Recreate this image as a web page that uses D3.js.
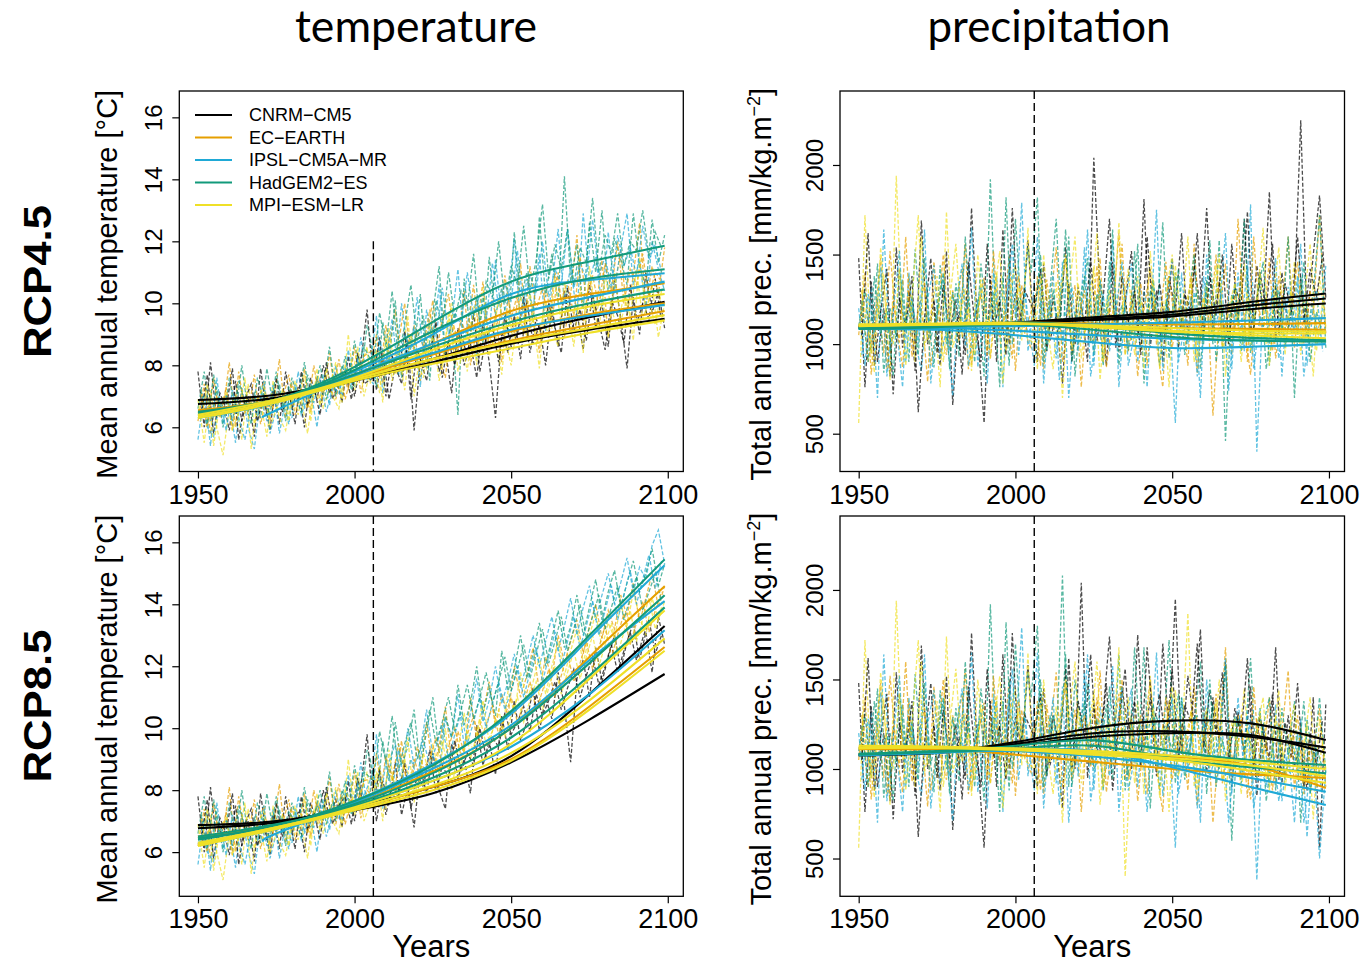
<!DOCTYPE html>
<html>
<head>
<meta charset="utf-8">
<script src="https://cdn.jsdelivr.net/npm/d3@7"></script>
<style>
  body { margin: 0; background: #fff; }
  svg { display: block; }
  text { font-family: "Liberation Sans", Arial, sans-serif; fill: #000; }
</style>
</head>
<body>
<div id="chart"></div>
<script>
// models / legend
const models = ["CNRM−CM5", "EC−EARTH", "IPSL−CM5A−MR", "HadGEM2−ES", "MPI−ESM−LR"];
const colors = ["#000000", "#E69F00", "#1FA9D6", "#129A7B", "#EFE027"];

// years of the annual series (two runs per model, read every second year)
const histYears = d3.range(1950, 2005, 2);   // 1950..2004
const futYears = d3.range(2005, 2100, 2);    // 2005..2099
const histYearsB = d3.range(1951, 2004, 2);  // 1951..2003
const futYearsB = d3.range(2006, 2099, 2);   // 2006..2098
const trendYears = [1950, 1975, 2000, 2025, 2050, 2075, 2099];
const xTicks = [1950, 2000, 2050, 2100];
const tasTicks = [6, 8, 10, 12, 14, 16];
const prTicks = [500, 1000, 1500, 2000];

// temperature, historical (shared by both scenarios), one row per model
const tasHist = [
  [7.8,6.0,8.1,6.3,6.9,5.9,7.5,6.2,7.0,5.7,7.9,6.4,7.2,6.1,7.8,6.6,7.3,6.0,7.6,6.9,8.0,7.1,7.7,6.8,8.3,7.0,8.1,9.8],
  [6.2,7.4,5.8,7.0,6.5,8.1,6.0,7.2,6.4,7.7,6.1,7.0,6.6,8.2,6.3,7.4,6.8,7.9,6.5,7.6,7.0,8.4,6.9,7.8,7.2,8.6,7.1,8.0],
  [5.6,7.1,5.4,7.6,6.1,6.8,5.5,7.3,6.0,5.3,7.0,6.2,7.4,5.8,6.9,6.3,7.8,6.6,7.2,6.0,7.7,6.7,8.0,7.0,8.5,7.3,8.9,7.5],
  [6.6,7.8,6.2,7.3,6.0,7.6,6.4,8.0,6.5,7.1,6.3,7.9,6.7,7.4,6.2,7.6,6.9,8.1,6.8,7.5,7.2,8.6,7.0,8.0,7.4,8.8,7.6,9.3],
  [6.9,5.5,7.2,6.0,5.1,6.6,7.0,5.6,7.4,6.1,6.8,5.7,7.5,6.3,5.9,7.0,6.4,7.7,6.2,7.9,6.6,7.3,8.1,6.8,9.0,7.2,7.9,8.6]
];
const tasHistB = [
  [6.4,7.7,5.8,7.1,6.6,7.9,5.6,6.9,7.4,6.2,7.0,5.9,7.6,6.5,7.2,6.1,7.8,6.7,7.3,6.4,8.1,6.9,7.5,7.8,6.9,8.4,7.4],
  [7.1,6.0,7.6,6.3,7.3,5.9,7.8,6.5,7.0,6.8,7.5,6.2,7.1,6.9,7.7,6.4,7.2,6.6,8.0,6.8,7.4,7.1,8.2,6.9,7.7,7.5,8.3],
  [6.8,6.0,5.7,6.9,5.9,7.2,6.3,5.6,6.7,6.4,7.5,5.8,6.6,7.1,6.1,7.4,6.4,7.0,6.8,7.6,6.5,7.3,7.1,7.9,7.4,8.2,7.8],
  [7.2,6.1,7.7,6.5,7.0,6.2,7.5,6.8,6.1,7.6,6.9,6.4,7.8,6.6,7.3,7.0,6.5,7.7,7.1,8.0,6.9,7.6,7.3,8.3,7.2,8.0,8.6],
  [6.3,7.4,5.4,6.8,7.1,5.9,6.5,7.6,5.3,6.9,7.3,6.0,6.6,7.2,6.2,7.5,6.9,5.8,7.4,6.7,7.9,7.0,6.6,8.0,7.5,8.6,7.0]
];
// temperature, RCP4.5
const tas45 = [
  [8.6,7.2,8.4,6.9,8.0,7.4,8.8,5.9,8.2,7.5,9.0,7.8,8.5,7.1,9.2,8.0,8.7,7.6,9.4,8.1,6.3,9.1,8.4,9.6,8.2,10.1,8.7,9.3,8.0,9.9,8.6,10.4,9.0,9.7,8.5,10.6,9.2,10.0,8.6,10.9,9.5,7.9,10.2,9.0,11.0,9.7,10.4,9.2],
  [7.9,9.0,7.4,8.6,9.8,7.7,8.3,9.3,7.5,8.9,10.1,8.2,7.6,9.5,8.8,10.4,8.0,9.2,10.7,8.5,9.6,8.1,10.2,9.0,11.3,8.8,9.9,8.4,10.6,9.4,11.0,8.9,10.3,12.2,9.3,10.8,9.7,11.4,8.9,10.5,11.7,9.6,10.9,12.6,9.9,11.2,10.3,11.8],
  [8.0,9.6,7.1,8.7,7.8,10.0,8.4,9.2,7.3,9.8,8.6,10.6,8.1,9.4,11.1,8.7,9.9,8.2,10.3,9.0,11.4,9.5,10.1,12.1,9.3,10.8,9.8,11.6,9.1,10.5,12.4,10.0,11.2,9.6,12.9,10.7,11.5,9.9,12.3,10.4,11.8,12.9,10.6,11.4,9.8,12.0,11.1,10.4],
  [8.9,7.3,9.4,8.1,10.1,7.6,9.0,8.5,10.3,7.9,9.7,11.2,8.3,9.5,6.4,10.8,9.1,10.2,8.7,11.5,9.6,10.5,9.0,12.3,10.1,11.0,9.4,12.8,10.2,11.6,10.0,14.1,10.7,11.9,9.8,12.6,11.0,13.0,10.3,12.1,11.4,10.6,12.9,11.2,10.5,12.7,11.3,12.2],
  [7.4,8.5,6.8,9.2,7.7,8.1,9.6,7.0,8.4,7.9,9.1,7.5,8.8,10.0,7.8,8.6,9.4,8.0,10.5,8.3,9.0,7.7,9.8,8.6,10.3,8.9,9.5,7.9,10.1,9.2,8.6,10.7,9.3,10.0,8.4,11.2,9.6,10.4,8.9,11.0,9.4,10.2,8.8,11.5,9.7,10.6,8.9,10.0]
];
const tas45B = [
  [7.6,8.9,7.0,8.3,7.7,9.1,6.9,8.5,7.9,8.2,9.4,7.6,8.8,8.0,9.0,8.3,9.7,7.8,8.9,9.3,8.1,9.6,8.6,9.0,10.2,8.4,9.5,8.9,10.0,9.2,8.4,10.5,9.1,9.8,8.8,10.3,9.4,8.5,10.1,9.6,8.7,10.6,9.3,10.0,9.5,10.8,9.4],
  [8.5,7.6,9.3,8.0,8.7,10.0,8.2,9.1,8.6,9.8,8.3,9.5,10.3,8.7,9.4,9.0,10.6,8.8,9.7,10.1,9.2,10.9,9.5,10.3,9.0,11.2,9.8,10.5,9.4,11.0,10.1,10.7,9.6,11.5,10.2,10.9,9.9,11.3,10.4,12.0,10.0,11.1,10.6,11.6,10.2,11.0,10.7],
  [7.4,8.8,8.1,9.5,7.7,9.0,8.5,10.2,8.4,9.3,8.9,10.5,9.0,9.7,9.3,11.0,9.6,10.3,9.4,11.3,9.9,10.6,10.1,11.7,9.8,10.9,10.4,12.0,10.2,11.1,10.6,12.4,10.5,11.3,10.8,12.7,10.9,11.5,10.5,12.2,11.2,11.8,10.9,12.5,11.4,11.9,11.0],
  [8.0,9.7,8.6,10.4,8.2,9.3,10.6,8.8,9.6,7.5,10.1,9.2,11.0,9.5,10.4,9.9,11.6,9.3,10.7,10.2,12.0,10.0,11.2,10.6,12.5,10.4,11.4,13.2,10.8,11.9,11.1,12.4,10.6,11.8,11.3,13.4,11.0,12.2,11.6,12.9,11.2,12.0,11.7,13.0,11.5,12.3,11.8],
  [8.2,7.1,8.9,7.5,8.6,7.2,9.0,8.1,7.6,9.3,8.4,7.9,9.7,8.2,8.9,7.8,9.9,8.5,9.2,8.7,10.2,8.9,8.0,9.6,9.1,10.4,8.7,9.5,9.0,10.8,9.3,9.9,8.6,10.5,9.5,10.0,9.1,10.9,9.8,9.2,10.3,9.6,11.1,9.5,10.1,9.3,10.4]
];
// temperature, RCP8.5
const tas85 = [
  [8.6,7.0,8.3,7.5,8.9,7.2,8.1,6.8,8.7,7.9,9.2,8.0,7.4,9.5,8.4,9.0,7.9,10.1,8.8,9.6,8.5,10.4,9.3,10.9,9.6,10.2,11.3,9.9,11.0,10.3,11.8,10.7,8.9,11.6,12.2,11.0,12.6,11.5,12.3,13.0,11.9,12.8,13.4,12.2,13.1,11.8,13.6,12.7],
  [7.9,9.2,7.6,8.8,8.1,9.6,7.8,9.0,8.4,10.2,8.7,9.4,10.7,8.9,9.9,9.2,11.0,9.6,10.5,11.5,10.0,11.1,10.4,12.0,11.0,11.7,12.6,11.2,12.3,11.6,13.0,12.1,12.8,13.5,12.4,13.3,14.0,12.9,13.8,13.2,14.3,13.6,14.7,13.4,14.2,15.0,13.9,14.6],
  [8.0,9.8,7.4,8.9,9.5,8.2,10.0,8.8,9.3,10.6,9.1,8.6,10.3,9.7,11.1,9.4,10.5,11.6,10.2,10.9,12.0,10.8,11.5,12.4,11.3,12.1,13.0,12.0,12.8,13.6,12.5,13.3,14.2,13.0,13.9,14.6,13.5,14.3,15.0,14.0,14.7,15.5,14.4,15.2,14.8,15.9,16.4,15.3],
  [9.0,7.6,9.6,8.3,10.2,8.8,9.4,10.6,8.7,9.9,11.0,9.2,10.4,9.7,11.4,10.1,10.8,12.0,10.5,11.3,10.4,12.5,11.2,11.9,13.0,11.6,12.4,13.4,12.0,12.9,13.8,12.6,13.3,14.3,13.0,13.9,14.8,13.5,14.4,15.1,13.9,14.7,15.4,14.4,15.0,15.8,14.6,15.3],
  [7.5,8.6,7.0,9.3,7.9,8.4,9.7,7.6,8.8,8.2,9.5,8.5,10.0,8.0,9.3,10.5,9.0,9.8,10.9,9.5,10.3,9.8,11.2,10.5,11.8,10.9,11.5,12.3,11.1,12.0,12.8,11.7,12.5,13.2,12.1,13.0,13.7,12.6,13.4,12.9,14.0,13.3,14.4,13.6,13.0,14.2,13.5,14.1]
];
const tas85B = [
  [7.5,8.7,7.2,8.2,7.8,8.9,7.4,8.5,8.1,9.3,7.9,8.8,8.4,9.6,8.6,9.2,8.8,10.0,9.1,9.7,9.4,10.5,9.8,10.2,10.7,9.9,11.1,10.4,10.9,11.5,10.6,11.3,11.9,11.0,11.7,12.3,11.4,12.0,12.7,11.8,12.5,13.1,12.2,12.9,13.5,12.4,13.0],
  [8.4,7.7,9.1,8.3,9.5,8.6,8.1,9.4,8.7,9.0,9.7,8.8,9.4,10.0,9.1,9.8,10.4,9.5,10.1,10.7,9.8,10.4,11.0,10.2,10.8,11.5,10.6,11.2,11.9,11.0,11.7,12.4,11.5,12.1,12.8,11.9,12.6,13.3,12.3,13.0,13.7,12.7,13.4,14.1,13.1,13.8,14.4],
  [8.6,7.5,8.9,8.0,9.3,8.2,9.0,8.4,9.6,8.8,9.4,10.1,9.0,9.8,10.5,9.5,10.2,11.0,10.0,10.8,11.5,10.6,11.2,12.0,11.0,11.8,12.6,11.5,12.3,13.1,12.0,12.8,13.6,12.6,13.3,14.1,13.0,13.8,14.6,13.5,14.3,15.1,14.0,14.8,15.6,14.5,15.4],
  [8.3,9.9,8.9,10.4,8.6,9.5,10.2,9.0,9.7,10.6,9.5,10.2,11.0,9.9,10.6,11.4,10.3,11.0,11.8,10.8,11.5,12.3,11.2,11.9,12.7,11.6,12.4,13.2,12.1,12.8,13.6,12.5,13.2,14.0,12.9,13.6,14.3,13.2,13.9,14.6,13.5,14.2,14.9,13.8,14.4,15.0,14.1],
  [7.9,8.8,7.4,8.5,7.7,9.0,8.2,7.8,9.2,8.5,8.9,9.6,8.6,9.3,8.8,9.9,9.2,10.3,9.5,9.9,10.6,9.7,10.4,11.0,10.2,10.9,11.5,10.6,11.3,12.0,11.1,11.8,12.5,11.6,12.3,13.0,12.0,12.7,13.4,12.4,13.1,13.8,12.8,13.5,14.2,13.2,13.9]
];

// precipitation, historical
const prHist = [
  [1480,760,1350,900,1200,820,1540,980,1300,850,1690,1000,1250,880,1520,660,1180,940,1760,1050,560,1380,900,1640,1000,1290,1120,1580],
  [1050,1400,830,1250,950,1520,1100,870,1380,1000,1200,790,1460,1080,940,1300,1010,1560,880,1190,1370,920,1240,1080,1500,850,1330,1010],
  [1200,880,1320,700,1640,960,1110,760,1400,1020,850,1250,1440,920,1080,710,1350,990,1650,870,1200,1060,1380,760,1500,1150,1790,960],
  [1100,1310,950,1450,840,1200,1040,1360,900,1530,1080,1180,870,1440,1000,1290,930,1600,1050,1250,820,1920,1010,1380,880,1700,1150,1540],
  [560,1720,950,1150,1390,800,1940,1050,1280,900,1600,1020,1200,760,1740,980,1130,1310,850,1500,1100,920,1400,780,1260,1450,1020,1650]
];
const prHistB = [
  [1050,1620,880,1180,1420,720,1260,1090,1380,620,1150,1480,950,1330,1060,1250,830,1460,1120,900,1560,1070,1240,940,1760,1080,1300],
  [1300,900,1120,1480,860,1240,1010,1600,930,1180,1340,880,1120,1500,980,1200,1420,860,1100,1280,940,1520,1040,1180,920,1380,1060],
  [940,1280,1060,1430,820,1180,1520,900,1260,1000,1640,780,1160,1380,960,1210,1450,880,1150,1320,780,1400,1080,1200,1560,940,1290],
  [1240,900,1380,1060,1200,820,1420,1100,1260,940,1480,1030,1180,1400,860,1340,1080,1250,900,1450,1100,1290,760,1820,1000,1260,1120],
  [1300,1080,840,1540,1120,1000,1420,880,1250,1720,980,1160,1380,900,1240,1560,1040,1200,940,1360,1080,1250,1520,960,1180,1320,1050]
];
// precipitation, RCP4.5
const pr45 = [
  [1300,900,1450,1020,1160,780,1340,1000,1220,900,2040,1280,880,1460,960,1230,1520,1040,1810,980,1300,900,1380,1180,1620,1040,1440,1210,1760,1080,1350,990,1560,1120,1700,1040,1440,1180,1850,1020,1400,1080,1280,2250,1120,1500,1830,1260],
  [980,1380,860,1200,1540,900,1120,1330,760,1250,1010,1480,870,1160,1620,940,1300,820,1190,1420,1000,760,1380,1090,1250,880,1560,1020,1320,600,1160,1450,940,1700,1100,830,1280,1060,1480,920,1210,1600,980,1340,1050,1180,1720,1060],
  [1100,1600,780,1250,920,1460,700,1180,1030,1640,880,1350,1000,1580,760,1220,1450,900,1300,1080,1750,850,1200,560,1400,1000,1290,700,1500,1060,1180,1620,860,1400,960,1780,400,1250,1100,1480,820,1320,1060,1560,880,1200,1010,1440],
  [1400,1820,900,1300,1700,1000,1600,820,1220,1480,940,1360,1100,1640,880,1250,1020,1560,780,1300,1120,1680,920,1400,1080,1220,1500,860,1360,1000,1580,460,1280,1100,1700,950,1240,1460,880,1340,1080,1600,700,1380,1040,1280,1720,980],
  [1200,860,1500,1040,1350,700,1280,1600,920,1180,1430,800,1250,1090,1680,940,1160,1380,860,1520,1020,1240,760,1440,1100,1600,900,1180,1340,1020,1500,820,1260,1100,1450,960,1220,1650,880,1300,1040,1180,1460,940,1250,820,1380,1100]
];
const pr45B = [
  [1180,1420,960,1260,1080,1540,900,1320,1100,1480,1020,1260,1700,980,1380,1120,1300,940,1600,1140,1340,1060,1480,980,1280,1180,1620,1040,1380,1160,1500,1000,1320,1220,1740,1080,1400,1200,1560,1060,1340,1180,1600,1120,1420,1260,1500],
  [1240,880,1360,1060,1180,1480,940,1120,1300,1010,1440,900,1200,1060,1560,960,1160,1340,880,1240,1120,1460,980,1200,1080,1380,840,1260,1120,1500,980,1220,1080,1400,900,1600,1100,1240,960,1380,1080,1200,1460,1000,1300,1060,1160],
  [880,1240,1050,1400,800,1160,1320,960,1540,820,1100,1280,960,1180,1460,880,1060,1240,760,1340,1000,1180,1480,900,1120,1260,820,1380,1040,1160,1300,740,1200,1080,1440,860,1160,1020,1300,920,1240,1060,1380,820,1140,1300,960],
  [1120,1500,960,1300,1060,1640,900,1200,1380,1020,1280,880,1460,1080,1220,960,1520,1040,1180,1360,880,1240,1100,1420,940,1180,1300,1000,1580,900,1200,1060,1340,960,1240,1120,1400,860,1160,1300,980,1220,1060,1460,900,1180,1060],
  [1000,1380,1120,860,1260,1500,980,1340,1060,1200,1620,900,1300,1080,1180,1420,940,1240,1100,1360,860,1280,1500,1000,1180,1360,920,1260,1060,1440,980,1200,1340,900,1280,1120,1400,1000,1200,1540,940,1300,1080,1220,1560,960,1240]
];
// precipitation, RCP8.5
const pr85 = [
  [1300,900,1450,1020,1160,780,1620,1000,2040,950,1360,1100,1480,880,1250,1560,1000,1750,1120,1400,960,1700,1200,1950,1080,1520,1250,1780,980,1400,1150,1600,900,1320,1080,1460,850,1240,1050,1680,920,1300,1010,1180,880,1400,560,1360],
  [980,1380,860,1200,1540,900,1120,1330,760,1250,1010,1550,870,1160,1420,940,1300,820,1190,1500,1000,760,1380,1090,1250,880,1460,1020,1320,700,1160,1680,940,1300,1100,830,1280,1060,1400,920,1210,1550,880,1240,950,1100,1340,900],
  [1100,1650,780,1250,920,1460,700,1180,1030,1640,880,1350,1000,1580,760,1220,1450,900,1300,1080,1650,850,1200,560,1400,1000,1290,700,1500,1060,1180,1620,860,1400,960,1300,380,1250,900,1360,820,1120,700,1280,620,1100,500,1000],
  [1400,1800,900,1300,1100,2080,900,1500,1220,1480,1000,1060,1360,940,1640,880,1250,1020,1680,780,1300,1120,1720,920,1400,1080,1220,1600,860,1360,1000,1580,600,1280,1100,1620,950,1240,1400,880,1340,1080,1380,700,1280,1040,1400,980],
  [1200,860,1500,1040,1350,700,1280,1600,920,1180,1430,800,1250,1090,1680,400,1160,1380,860,1520,1020,1240,760,1440,1100,1870,900,1180,1340,1020,1500,820,1260,1100,1450,960,1220,1400,880,1300,1040,1180,1360,940,1250,720,1280,1000]
];
const pr85B = [
  [1180,1420,960,1300,1120,1560,1000,1380,1180,1640,1080,1320,1740,1100,1460,1200,1380,1020,1680,1240,1420,1140,1560,1060,1360,1260,1700,1120,1440,1200,1540,1040,1340,1180,1620,1000,1300,1100,1420,940,1260,1060,1480,900,1200,1020,1280],
  [1240,880,1360,1060,1180,1480,940,1120,1300,1010,1400,900,1160,1040,1500,940,1120,1300,860,1200,1080,1400,940,1160,1040,1320,800,1200,1060,1420,920,1160,1000,1300,840,1460,1020,1140,880,1260,960,1080,1300,860,1140,940,1040],
  [880,1240,1050,1400,800,1160,1320,960,1540,820,1100,1280,960,1180,1460,880,1060,1240,760,1300,980,1140,1400,860,1080,1200,780,1300,960,1080,1220,700,1100,980,1320,780,1040,900,1160,820,1080,940,1200,700,980,1100,820],
  [1120,1500,960,1300,1060,1640,900,1200,1380,1020,1280,880,1460,1080,1220,960,1680,1040,1180,1360,880,1240,1100,1420,940,1180,1300,1000,1500,900,1160,1020,1300,920,1200,1080,1340,820,1120,1240,940,1160,1020,1380,860,1120,1000],
  [1000,1380,1120,860,1260,1500,980,1340,1060,1200,1600,900,1280,1060,1160,1400,920,1220,1080,1340,840,1240,1460,960,1140,1320,880,1220,1020,1380,940,1160,1280,860,1220,1060,1320,940,1140,1440,880,1220,1000,1140,1400,900,1160]
];

// smoothed trends (m = model index), values at trendYears
const tasTrend45 = [
  {m:0, v:[6.88,7.05,7.55,8.2,8.95,9.55,10.05]},
  {m:0, v:[6.75,6.95,7.5,8.1,8.7,9.15,9.5]},
  {m:1, v:[6.55,6.9,7.7,8.7,9.75,10.3,10.65]},
  {m:1, v:[6.5,6.85,7.55,8.2,8.8,9.3,9.75]},
  {m:1, v:[6.45,6.85,7.6,8.35,9.1,9.65,10.0]},
  {m:2, v:[6.35,6.85,7.8,9.0,10.3,10.75,10.97]},
  {m:2, v:[6.3,6.8,7.65,8.4,9.15,9.6,9.95]},
  {m:2, start:1971, v:[6.35,6.55,7.7,8.7,9.6,10.2,10.7]},
  {m:3, v:[6.45,6.9,7.95,9.4,10.7,11.35,11.86]},
  {m:3, v:[6.4,6.85,7.85,9.1,10.17,10.8,11.1]},
  {m:3, v:[6.5,6.9,7.7,8.6,9.4,10.0,10.45]},
  {m:4, v:[6.3,6.8,7.5,8.05,8.55,9.05,9.45]},
  {m:4, v:[6.35,6.85,7.55,8.2,8.75,9.2,9.62]},
  {m:4, v:[6.4,6.9,7.6,8.5,9.3,9.9,10.3]}
];
const tasTrend85 = [
  {m:0, v:[6.87,7.0,7.45,8.1,9.1,11.1,13.3]},
  {m:0, v:[6.77,6.95,7.35,7.9,8.9,10.28,11.75]},
  {m:1, v:[6.5,6.85,7.55,8.6,10.0,12.3,14.58]},
  {m:1, v:[6.45,6.85,7.4,8.1,9.0,10.7,12.62]},
  {m:2, v:[6.3,6.8,7.65,8.85,10.47,12.9,15.26]},
  {m:2, v:[6.25,6.75,7.45,8.3,9.4,11.1,13.16]},
  {m:2, start:1971, v:[6.35,6.6,7.6,8.7,10.1,12.2,14.1]},
  {m:3, v:[6.45,6.85,7.65,8.8,10.55,13.0,15.45]},
  {m:3, v:[6.4,6.85,7.55,8.55,10.0,12.1,14.29]},
  {m:3, v:[6.5,6.9,7.5,8.4,9.7,11.7,13.9]},
  {m:4, v:[6.2,6.75,7.35,8.0,8.95,10.6,12.5]},
  {m:4, v:[6.3,6.8,7.45,8.3,9.5,11.6,13.8]},
  {m:4, v:[6.25,6.8,7.4,8.15,9.2,10.9,12.9]}
];
const prTrend45 = [
  {m:0, v:[1095,1100,1120,1150,1180,1235,1283]},
  {m:0, v:[1090,1095,1115,1140,1165,1215,1255]},
  {m:0, v:[1095,1098,1118,1135,1155,1195,1227]},
  {m:1, v:[1105,1110,1120,1115,1110,1112,1117]},
  {m:1, v:[1100,1105,1110,1100,1090,1085,1080]},
  {m:2, v:[1090,1095,1100,1110,1120,1132,1145]},
  {m:2, v:[1085,1080,1050,1010,978,985,1000]},
  {m:2, v:[1088,1090,1075,1050,1030,1020,1025]},
  {m:3, v:[1085,1095,1110,1080,1040,1020,1014]},
  {m:3, v:[1090,1100,1120,1100,1060,1035,1022]},
  {m:4, v:[1110,1115,1118,1100,1075,1060,1061]},
  {m:4, v:[1105,1110,1115,1095,1070,1048,1033]},
  {m:4, v:[1100,1108,1112,1105,1090,1075,1070]}
];
const prTrend85 = [
  {m:0, v:[1080,1095,1150,1230,1270,1255,1162]},
  {m:0, v:[1075,1090,1130,1180,1200,1190,1091]},
  {m:0, v:[1080,1092,1140,1200,1210,1180,1120]},
  {m:1, v:[1120,1115,1080,1040,1000,970,950]},
  {m:1, v:[1110,1110,1105,1090,1070,1020,894]},
  {m:2, v:[1075,1090,1110,1100,1010,900,799]},
  {m:2, v:[1080,1095,1100,1070,1020,950,873]},
  {m:3, v:[1085,1100,1130,1160,1100,1050,1022]},
  {m:3, v:[1080,1095,1115,1130,1060,1010,976]},
  {m:4, v:[1130,1125,1110,1080,1050,990,922]},
  {m:4, v:[1120,1118,1105,1090,1060,1020,960]},
  {m:4, v:[1115,1120,1115,1100,1075,1040,1000]}
];

const svg = d3.select("#chart").append("svg").attr("width", 1362).attr("height", 967);

const xDomain = [1944.04, 2104.96];
const colL = [179.3, 683.3], colR = [840, 1344.5];
const rowT = [91, 471.5], rowB = [516, 896.3];
let clipCount = 0;

function drawPanel(bx, by, yDomain, yTicks, runs, trends, opt) {
  const g = svg.append("g");
  const x = d3.scaleLinear().domain(xDomain).range(bx);
  const y = d3.scaleLinear().domain(yDomain).range([by[1], by[0]]);

  const clipId = "clip" + (++clipCount);
  svg.append("clipPath").attr("id", clipId).append("rect")
     .attr("x", bx[0]).attr("y", by[0]).attr("width", bx[1] - bx[0]).attr("height", by[1] - by[0]);
  const plot = g.append("g").attr("clip-path", `url(#${clipId})`);

  // annual series, dashed; runs = [[years, hist, future], ...]
  runs.forEach(([years, hist, fut]) => {
    const line = d3.line().x((d, i) => x(years[i])).y(d => y(d));
    hist.forEach((h, i) => {
      plot.append("path")
          .attr("d", line(h.concat(fut[i])))
          .attr("fill", "none")
          .attr("stroke", colors[i])
          .attr("stroke-width", 1.3)
          .attr("stroke-dasharray", "4,2")
          .attr("opacity", 0.7);
    });
  });

  // 2006 marker
  plot.append("line")
      .attr("x1", x(2006)).attr("x2", x(2006))
      .attr("y1", opt.markTop != null ? y(opt.markTop) : by[0]).attr("y2", by[1])
      .attr("stroke", "#000").attr("stroke-width", 1.4).attr("stroke-dasharray", "8,4");

  // smoothed trends
  const tline = d3.line().curve(d3.curveNatural).x(d => x(d[0])).y(d => y(d[1]));
  trends.forEach(t => {
    const yrs = trendYears.slice();
    if (t.start) yrs[0] = t.start;
    plot.append("path")
        .attr("d", tline(t.v.map((v, i) => [yrs[i], v])))
        .attr("fill", "none")
        .attr("stroke", colors[t.m])
        .attr("stroke-width", 2.1);
  });

  // axes
  const xAxis = g.append("g").attr("transform", `translate(0,${by[1]})`)
      .call(d3.axisBottom(x).tickValues(xTicks).tickSize(7).tickFormat(d3.format("d")));
  xAxis.select(".domain").remove();
  xAxis.selectAll("line").attr("stroke", "#000").attr("stroke-width", 1.2);
  xAxis.selectAll("text").attr("y", 32).attr("dy", 0).style("font-size", "27px");

  const yAxis = g.append("g").attr("transform", `translate(${bx[0]},0)`)
      .call(d3.axisLeft(y).tickValues(yTicks).tickSize(7).tickFormat(d3.format("d")));
  yAxis.select(".domain").remove();
  yAxis.selectAll("line").attr("stroke", "#000").attr("stroke-width", 1.2);
  yAxis.selectAll("text")
       .attr("x", 0).attr("dy", 0)
       .attr("text-anchor", "middle")
       .attr("transform", "translate(-17,0) rotate(-90)")
       .style("font-size", "24px");

  g.append("rect")
   .attr("x", bx[0]).attr("y", by[0]).attr("width", bx[1] - bx[0]).attr("height", by[1] - by[0])
   .attr("fill", "none").attr("stroke", "#000").attr("stroke-width", 1.3);

  // y title
  const yt = g.append("text")
      .attr("transform", `translate(${opt.titleX},${(by[0] + by[1]) / 2 + 3}) rotate(-90)`)
      .attr("text-anchor", "middle")
      .style("font-size", "29px");
  if (opt.prec) {
    yt.append("tspan").text("Total annual prec. [mm/kg.m");
    yt.append("tspan").attr("dy", -11).style("font-size", "18px").text("−2");
    yt.append("tspan").attr("dy", 11).text("]");
  } else {
    yt.text("Mean annual temperature [°C]");
  }

  if (opt.years) {
    g.append("text").attr("x", (bx[0] + bx[1]) / 2).attr("y", 957)
     .attr("text-anchor", "middle").style("font-size", "31px").text("Years");
  }

  if (opt.legend) {
    const lg = g.append("g");
    models.forEach((m, i) => {
      const yy = 115 + i * 22.5;
      lg.append("line").attr("x1", 195).attr("x2", 232).attr("y1", yy).attr("y2", yy)
        .attr("stroke", colors[i]).attr("stroke-width", 2.2);
      lg.append("text").attr("x", 249).attr("y", yy).attr("dy", "0.35em")
        .style("font-size", "18px").text(m);
    });
  }
}

const tasRuns45 = [[histYears.concat(futYears), tasHist, tas45], [histYearsB.concat(futYearsB), tasHistB, tas45B]];
const tasRuns85 = [[histYears.concat(futYears), tasHist, tas85], [histYearsB.concat(futYearsB), tasHistB, tas85B]];
const prRuns45 = [[histYears.concat(futYears), prHist, pr45], [histYearsB.concat(futYearsB), prHistB, pr45B]];
const prRuns85 = [[histYears.concat(futYears), prHist, pr85], [histYearsB.concat(futYearsB), prHistB, pr85B]];

drawPanel(colL, rowT, [4.574, 16.85], tasTicks, tasRuns45, tasTrend45, {titleX: 117, legend: true, markTop: 12});
drawPanel(colR, rowT, [289, 2413], prTicks, prRuns45, prTrend45, {titleX: 771, prec: true});
drawPanel(colL, rowB, [4.574, 16.85], tasTicks, tasRuns85, tasTrend85, {titleX: 117, years: true});
drawPanel(colR, rowB, [289, 2413], prTicks, prRuns85, prTrend85, {titleX: 771, prec: true, years: true});

// column titles
svg.append("text").attr("x", 416).attr("y", 42).attr("text-anchor", "middle")
   .style("font-family", "Lato, 'Open Sans', sans-serif").style("font-size", "44px")
   .attr("textLength", 242).attr("lengthAdjust", "spacingAndGlyphs").text("temperature");
svg.append("text").attr("x", 1049).attr("y", 42).attr("text-anchor", "middle")
   .style("font-family", "Lato, 'Open Sans', sans-serif").style("font-size", "44px")
   .attr("textLength", 243).attr("lengthAdjust", "spacingAndGlyphs").text("precipitation");

// row labels
[["RCP4.5", 281.5], ["RCP8.5", 706]].forEach(([label, cy]) => {
  svg.append("text")
     .attr("transform", `translate(51,${cy}) rotate(-90)`)
     .attr("text-anchor", "middle")
     .style("font-size", "38px").style("font-weight", "bold")
     .attr("textLength", 153).attr("lengthAdjust", "spacingAndGlyphs")
     .text(label);
});
</script>
</body>
</html>
